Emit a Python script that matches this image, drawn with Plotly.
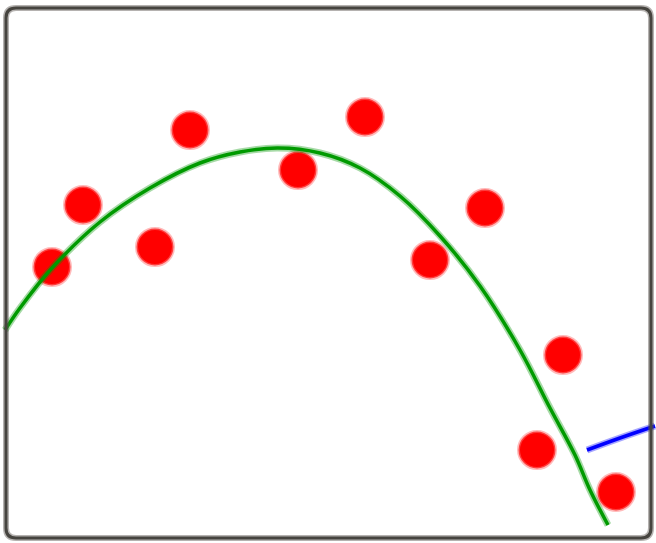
import plotly.graph_objects as go

W, H = 656, 543

# Red dots (sketch coordinates, y measured downward)
dot_x = [52, 83, 190, 155, 298, 365, 430, 485, 563, 537, 616]
dot_y = [267, 205, 130, 247, 170, 117, 260, 208, 355, 450, 492]

# Green curve
curve_x = [5, 20, 52, 100, 150, 200, 240, 278, 320, 360, 400, 440, 480, 520, 550, 575, 590, 608]
curve_y = [330, 308, 268, 222, 188, 163, 152, 148, 153, 168, 196, 236, 286, 350, 408, 455, 490, 525]

# Blue stroke
blue_x = [587, 620, 655]
blue_y = [450, 438, 426]

fig = go.Figure()

fig.add_trace(go.Scatter(
    x=dot_x, y=dot_y, mode="markers",
    marker=dict(size=37, color="#ff0000", line=dict(width=3, color="rgba(255,120,120,0.5)")),
    hoverinfo="skip", showlegend=False))

fig.add_trace(go.Scatter(
    x=curve_x, y=curve_y, mode="lines",
    line=dict(color="rgba(0,150,0,0.35)", width=7, shape="spline"),
    hoverinfo="skip", showlegend=False))
fig.add_trace(go.Scatter(
    x=curve_x, y=curve_y, mode="lines",
    line=dict(color="#009a00", width=3.5, shape="spline"),
    hoverinfo="skip", showlegend=False))

fig.add_trace(go.Scatter(
    x=blue_x, y=blue_y, mode="lines",
    line=dict(color="rgba(0,0,255,0.35)", width=7, shape="spline"),
    hoverinfo="skip", showlegend=False))
fig.add_trace(go.Scatter(
    x=blue_x, y=blue_y, mode="lines",
    line=dict(color="#0000ff", width=3.5, shape="spline"),
    hoverinfo="skip", showlegend=False))

# rounded border
x0, y0, x1, y1, r = 6, 8, 651, 538, 10
path = (f"M {x0+r},{y0} L {x1-r},{y0} Q {x1},{y0} {x1},{y0+r} "
        f"L {x1},{y1-r} Q {x1},{y1} {x1-r},{y1} L {x0+r},{y1} "
        f"Q {x0},{y1} {x0},{y1-r} L {x0},{y0+r} Q {x0},{y0} {x0+r},{y0} Z")
fig.add_shape(type="path", path=path, xref="x", yref="y",
              line=dict(color="rgba(90,85,80,0.45)", width=6), layer="above")
fig.add_shape(type="path", path=path, xref="x", yref="y",
              line=dict(color="#46443f", width=3), layer="above")

fig.update_layout(
    width=W, height=H,
    margin=dict(l=0, r=0, t=0, b=0),
    paper_bgcolor="white", plot_bgcolor="white",
    xaxis=dict(range=[0, W], visible=False, fixedrange=True),
    yaxis=dict(range=[H, 0], visible=False, fixedrange=True),
)

fig.write_html(
    "out.html",
    config={"displayModeBar": False},
    post_script="document.body.style.margin='0';document.body.style.padding='0';document.body.style.overflow='hidden';",
)
